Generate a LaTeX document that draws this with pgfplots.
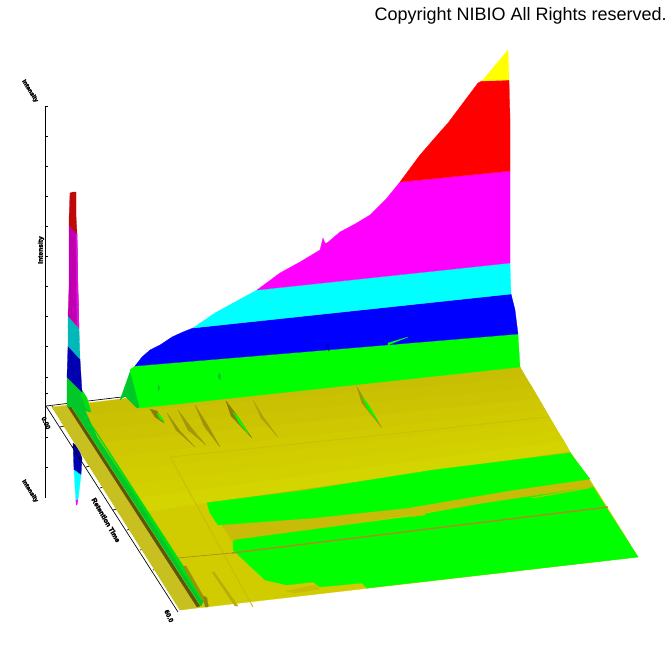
\documentclass[border=0pt]{standalone}
\usepackage{pgfplots}
\pgfplotsset{compat=1.18}
\usepackage{fontspec}
\setmainfont{Liberation Sans}
\newcommand{\poly}[2]{\addplot[draw=#1,line width=0.2pt,fill=#1,forget plot] coordinates {#2} -- cycle;}
\newcommand{\lin}[3]{\addplot[draw=#1,line width=#2,forget plot] coordinates {#3};}
\newcommand{\blob}[5]{\node[rotate=#3,inner sep=0pt,text=black,font=\fontsize{#5}{#5}\selectfont\bfseries\addfontfeature{FakeBold=3}] at (axis cs:#1,#2) {#4};}
\definecolor{mg}{HTML}{FF00FF}
\definecolor{cy}{HTML}{00FFFF}
\definecolor{yl}{HTML}{FFFF00}
\definecolor{rd}{HTML}{FF0000}
\definecolor{bl}{HTML}{0000FF}
\definecolor{sR}{HTML}{C00808}
\definecolor{sM}{HTML}{C000B0}
\definecolor{sL}{HTML}{E010E0}
\definecolor{sC}{HTML}{00B8B8}
\definecolor{sB}{HTML}{0000B0}
\definecolor{yB}{HTML}{D0CC00}
\definecolor{yC}{HTML}{C8BC08}
\definecolor{yD}{HTML}{C8C020}
\definecolor{dk}{HTML}{5C5408}
\definecolor{br}{HTML}{A89020}
\definecolor{gA}{HTML}{00FF00}
\definecolor{gB}{HTML}{00C828}
\definecolor{gC}{HTML}{00E010}
\definecolor{st1}{HTML}{C8BE04}
\definecolor{st2}{HTML}{CAC103}
\definecolor{st3}{HTML}{CCC402}
\definecolor{st4}{HTML}{CEC701}
\definecolor{st5}{HTML}{D0CA00}
\definecolor{st6}{HTML}{D1CD00}
\definecolor{st7}{HTML}{D3D000}
\definecolor{st8}{HTML}{D4D400}
\begin{document}
\begin{tikzpicture}
\begin{axis}[scale only axis,width=504pt,height=504pt,xmin=0,xmax=672,ymin=0,ymax=672,y dir=reverse,hide axis,clip=true]
\addplot[draw=none,forget plot] coordinates {(0,0)(672,672)};
% spike below the floor
\poly{sB}{(73,443)(78,447)(82,458)(81,475)(74,470)}
\poly{cy}{(74,470)(81,475)(78,500)(76,502)}
\poly{mg}{(76,500)(78,500)(77,505)(76,505)}
% axes
\lin{black}{0.6pt}{(45.5,106)(45.5,405)}
\lin{black}{0.6pt}{(45,405)(45,498)}
\lin{black}{0.5pt}{(46,406)(130,396)}
\lin{black}{0.5pt}{(46,406)(178,612)}
\lin{black}{0.5pt}{(52,406)(182,610)}
\addplot[black,line width=0.5pt,forget plot,mark=none] coordinates {(45.5,106)(48,106)};
\addplot[black,line width=0.5pt,forget plot,mark=none] coordinates {(45.5,136)(48,136)};
\addplot[black,line width=0.5pt,forget plot,mark=none] coordinates {(45.5,166)(48,166)};
\addplot[black,line width=0.5pt,forget plot,mark=none] coordinates {(45.5,196)(48,196)};
\addplot[black,line width=0.5pt,forget plot,mark=none] coordinates {(45.5,226)(48,226)};
\addplot[black,line width=0.5pt,forget plot,mark=none] coordinates {(45.5,256)(48,256)};
\addplot[black,line width=0.5pt,forget plot,mark=none] coordinates {(45.5,286)(48,286)};
\addplot[black,line width=0.5pt,forget plot,mark=none] coordinates {(45.5,316)(48,316)};
\addplot[black,line width=0.5pt,forget plot,mark=none] coordinates {(45.5,346)(48,346)};
\addplot[black,line width=0.5pt,forget plot,mark=none] coordinates {(45.5,377)(48,377)};
\addplot[black,line width=0.5pt,forget plot,mark=none] coordinates {(45.5,393)(48,393)};
\addplot[black,line width=0.5pt,forget plot,mark=none] coordinates {(45,437)(48,437)};
\addplot[black,line width=0.5pt,forget plot,mark=none] coordinates {(45,467)(48,467)};
\addplot[black,line width=0.5pt,forget plot,mark=none] coordinates {(60,427)(64,426)};
\addplot[black,line width=0.5pt,forget plot,mark=none] coordinates {(72,447)(76,446)};
\addplot[black,line width=0.5pt,forget plot,mark=none] coordinates {(86,467)(90,466)};
\addplot[black,line width=0.5pt,forget plot,mark=none] coordinates {(100,488)(104,487)};
\addplot[black,line width=0.5pt,forget plot,mark=none] coordinates {(113,510)(117,509)};
\addplot[black,line width=0.5pt,forget plot,mark=none] coordinates {(127,530)(131,529)};
\addplot[black,line width=0.5pt,forget plot,mark=none] coordinates {(140,550)(144,549)};
\addplot[black,line width=0.5pt,forget plot,mark=none] coordinates {(153,570)(157,569)};
\addplot[black,line width=0.5pt,forget plot,mark=none] coordinates {(167,590)(171,589)};
% floor
\poly{yB}{(52,407)(130,398)(520,367)(570,452)(590,480)(607,507)(638,557)(180,610)}
\poly{yD}{(52,407)(68,407)(198,607)(180,610)}
\poly{st1}{(68,407)(130,398)(520,367)(526,378)(74.2,416.6)}
\poly{st2}{(74.2,416.6)(526,378)(532.5,388)(83.1,430.2)}
\poly{st3}{(83.1,430.2)(532.5,388)(539,399)(91.8,443.7)}
\poly{st4}{(91.8,443.7)(539,399)(545,409.5)(101,457.9)}
\poly{st5}{(101,457.9)(545,409.5)(551,420)(110.1,472)}
\poly{st6}{(110.1,472)(551,420)(557.5,431)(118.9,485.6)}
\poly{st7}{(118.9,485.6)(557.5,431)(564,441)(127.8,499.2)}
\poly{st8}{(127.8,499.2)(564,441)(570,452)(136.6,512.9)}
% dark stripe and green strip
\poly{dk}{(68,407)(71,407)(200,606)(197,607)}
\poly{gB}{(72,407)(84,408)(97,437)(204,600)(201,606)}
\poly{gC}{(90,423)(94,428)(204,598)(201,600)}
% small streaks at the foot
\poly{dk!40!yC}{(183,566)(186,566)(209,606)(206,606)}
\poly{dk!55!yC}{(204,596)(207,598)(208,607)(205,607)}
\poly{dk!15!yC}{(212,572)(214,572)(238,606)(235,606)}
% olive band and green bands
\poly{yC}{(207,503)(570,452)(593,487)(233,542)}
\poly{gA}{(207,503)(213,502)(307,490)(433,470)(570,453)(590,479)(513,490)(407,508)(313,518)(218,525)(210,513)}
\poly{gA}{(233,542)(235,540)(242,539)(407,517)(480,504)(593,487)(638,557)(367,588)(362,583)(320,587)(313,582)(287,585)(265,580)(247,563)(233,550)}
\poly{yC}{(286,591)(315,585)(320,589)(295,593)}
\poly{yC}{(530,498)(590,487)(590,488)(540,497)}
\poly{yC}{(410,516)(425,513)(425,515)(410,517)}
% ridge and thin line
\lin{yC}{0.7pt}{(170,457)(253,607)}
\lin{yC}{0.5pt}{(170,457)(420,431)(548,417)}
\lin{br}{1.1pt}{(232,553)(608,507)}
\lin{br}{0.5pt}{(177,558)(232,553)}
% streaks
\poly{dk!40!yC}{(167,413)(180,431)(195,447)(176,430)}
\poly{dk!35!yC}{(178,410)(194,431)(206,445)(188,430)}
\poly{dk!40!yC}{(195,405)(207,424)(220,447)(204,426)}
\poly{dk!60!yC}{(226,401)(236,414)(252,438)(231,416)}
\poly{gA}{(233,412)(238,417)(249,434)(240,424)}
\poly{dk!25!yC}{(253,400)(264,418)(278,437)(261,418)}
\poly{dk!40!yC}{(357,387)(366,402)(382,428)(362,403)}
\poly{gA}{(362,397)(368,404)(378,421)(368,409)}
\poly{dk!60!yC}{(150,409)(157,411)(164,423)(155,417)}
\poly{gA}{(157,413)(160,415)(164,421)(160,419)}
% wall
\poly{gB}{(130,372)(135,368)(145,405)(137,408)(125,396)(120,400)}
\poly{gA}{(130,370)(135,366)(518,334)(520,367)(140,408)}
\poly{bl}{(135,366)(142,357)(150,350)(160,345)(172,337)(183,332)(193,328)(511,294)(515,310)(518,334)}
\poly{cy}{(193,328)(215,313)(235,302)(257,290)(510,263)(511,294)}
\poly{mg}{(257,290)(280,273)(300,262)(320,250)(323,238)(325,243)(327,243)(340,232)(355,224)(370,215)(385,200)(387,198)(400,182)(510,171)(510,263)}
\poly{rd}{(400,182)(420,155)(440,132)(448,123)(460,107)(478,83)(482,81)(509,80)(510,118)(510,171)}
\poly{yl}{(482,81)(508,50)(509,80)}
\poly{gA}{(388,343)(408,337)(398,341)(388,345)}
\poly{sB}{(326,344)(329,344)(329,351)}
\poly{gB}{(219,373)(221,376)(220,380)(218,377)}
\poly{gB}{(158,385)(160,388)(158,391)}
% left spike
\poly{gB}{(67,377)(82,392)(85,397)(90,412)(74,407)(67,407)}
\poly{gC}{(82,390)(87,398)(91,412)(86,408)(81,395)}
\poly{sB}{(68,346)(80,359)(82,392)(67,377)}
\poly{sC}{(68,316)(79,328)(80,359)(68,346)}
\poly{sM}{(69,225)(77,234)(78,290)(79,328)(68,316)(69,287)}
\poly{sL}{(76,232)(77,234)(78,290)(79,328)(77,326)}
\poly{sR}{(70,193)(73,192)(76,192)(76,215)(77,234)(69,225)(69,220)}
% labels
\node[anchor=north east,inner sep=0pt,font=\fontsize{13.5}{16}\selectfont] at (axis cs:667,7) {Copyright NIBIO All Rights reserved.};
\blob{30}{91}{-58}{Intensity}{4.6}
\blob{41}{250}{90}{Intensity}{5}
\blob{30}{491}{-58}{Intensity}{4.6}
\blob{106}{520}{-60}{Retention Time}{5.2}
\blob{46}{423}{-65}{0.00}{5}
\blob{169}{616}{-65}{60.0}{5}
\end{axis}
\end{tikzpicture}
\end{document}
